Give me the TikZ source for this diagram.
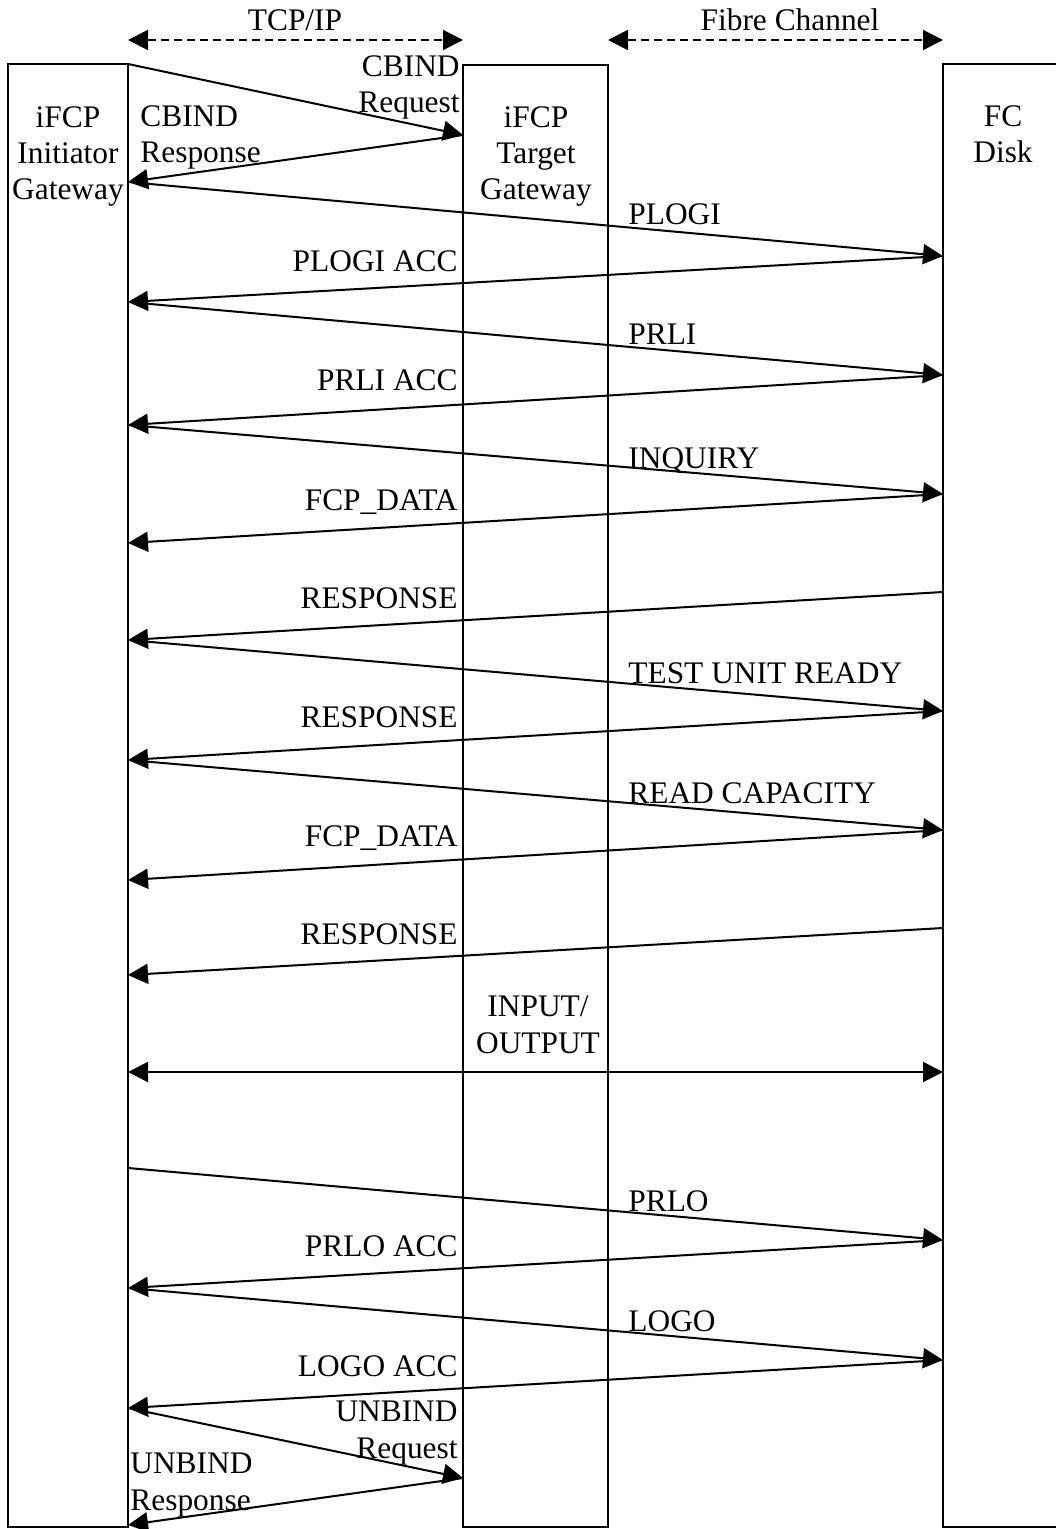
\documentclass[tikz,border=0pt]{standalone}
\usepackage{fontspec}
\setmainfont{Liberation Serif}
\usetikzlibrary{arrows.meta}

\tikzset{
  lifebox/.style={draw, line width=1pt, inner sep=0pt, outer sep=0pt, anchor=north west},
  msg/.style={line width=1pt, -{Triangle[length=10pt,width=10pt]}},
  bothway/.style={line width=1pt, {Triangle[length=10pt,width=10pt]}-{Triangle[length=10pt,width=10pt]}},
  netspan/.style={line width=1pt, dash pattern=on 4pt off 2.5pt,
    {Triangle[length=10pt,width=10pt]}-{Triangle[length=10pt,width=10pt]}},
  lbl/.style={font=\fontsize{15.7}{18.2}\selectfont, inner sep=0pt},
}

\begin{document}
\begin{tikzpicture}[x=0.5pt,y=-0.5pt]
\useasboundingbox (0,0) rectangle (1055,1529);

% Gateways and disk
\node[lifebox, minimum width=60pt, minimum height=731.5pt] (ini) at (8,64) {};
\node[lifebox, minimum width=72.5pt, minimum height=731pt] (tgt) at (463,65) {};
\node[lifebox, minimum width=60pt, minimum height=731.5pt] (disk) at (943,64) {};

% (base = last line)
\node[lbl, align=center, anchor=base] (ini-lbl) at (68,200) {iFCP\\Initiator\\Gateway};
\node[lbl, align=center, anchor=base] (tgt-lbl) at (536,200) {iFCP\\Target\\Gateway};
\node[lbl, align=center, anchor=base] (disk-lbl) at (1003,163) {FC\\Disk};

% Networks
\coordinate (tcp-l) at (ini.east |- 0,40);
\coordinate (tcp-r) at (tgt.west |- 0,40);
\coordinate (fc-l) at (tgt.east |- 0,40);
\coordinate (fc-r) at (disk.west |- 0,40);
\draw[netspan] (tcp-l) -- (tcp-r);
\draw[netspan] (fc-l) -- (fc-r);
\node[lbl, anchor=base] (tcp-lbl) at (295,31) {TCP/IP};
\node[lbl, anchor=base] (fc-lbl) at (790,31) {Fibre Channel};

% CBIND
\coordinate (cb-t) at (tgt.west |- 0,135);
\coordinate (cb-i) at (ini.east |- 0,182);
\draw[msg] (ini.north east) -- (cb-t);
\draw[msg] (cb-t) -- (cb-i);
\node[lbl, align=right, anchor=base east] (cb-req) at (460,113) {CBIND\\Request};
\node[lbl, align=left, anchor=base west] (cb-rsp) at (140,163) {CBIND\\Response};

% Requests to the disk
\foreach \ya/\yb/\txt in {182/256/PLOGI, 302/375/PRLI, 425/494/INQUIRY,
  640/711/TEST UNIT READY, 760/830/READ CAPACITY, 1168/1240/PRLO, 1288/1360/LOGO}
{
  \draw[msg] (ini.east |- 0,\ya) -- (disk.west |- 0,\yb);
  \node[lbl, anchor=base west] (req-\ya) at (628,\ya+43) {\txt};
}

% Replies from the disk
\foreach \ya/\yb/\txt in {256/302/PLOGI ACC, 375/425/PRLI ACC, 494/543/FCP\_DATA,
  592/640/RESPONSE, 711/760/RESPONSE, 830/880/FCP\_DATA, 928/975/RESPONSE,
  1240/1288/PRLO ACC, 1360/1408/LOGO ACC}
{
  \draw[msg] (disk.west |- 0,\ya) -- (ini.east |- 0,\yb);
  \node[lbl, anchor=base east] (rep-\ya) at (458,\ya+16) {\txt};
}

% Input/output
\draw[bothway] (ini.east |- 0,1072) -- (disk.west |- 0,1072);
\node[lbl, align=center, anchor=base] (io-lbl) at (538,1053) {INPUT/\\OUTPUT};

% UNBIND
\coordinate (ub-i) at (ini.east |- 0,1408);
\coordinate (ub-t) at (tgt.west |- 0,1478);
\coordinate (ub-e) at (ini.east |- 0,1525);
\draw[msg] (ub-i) -- (ub-t);
\draw[msg] (ub-t) -- (ub-e);
\node[lbl, align=right, anchor=base east] (ub-req) at (458,1458) {UNBIND\\Request};
\node[lbl, align=left, anchor=base west] (ub-rsp) at (130,1510) {UNBIND\\Response};

\end{tikzpicture}
\end{document}
